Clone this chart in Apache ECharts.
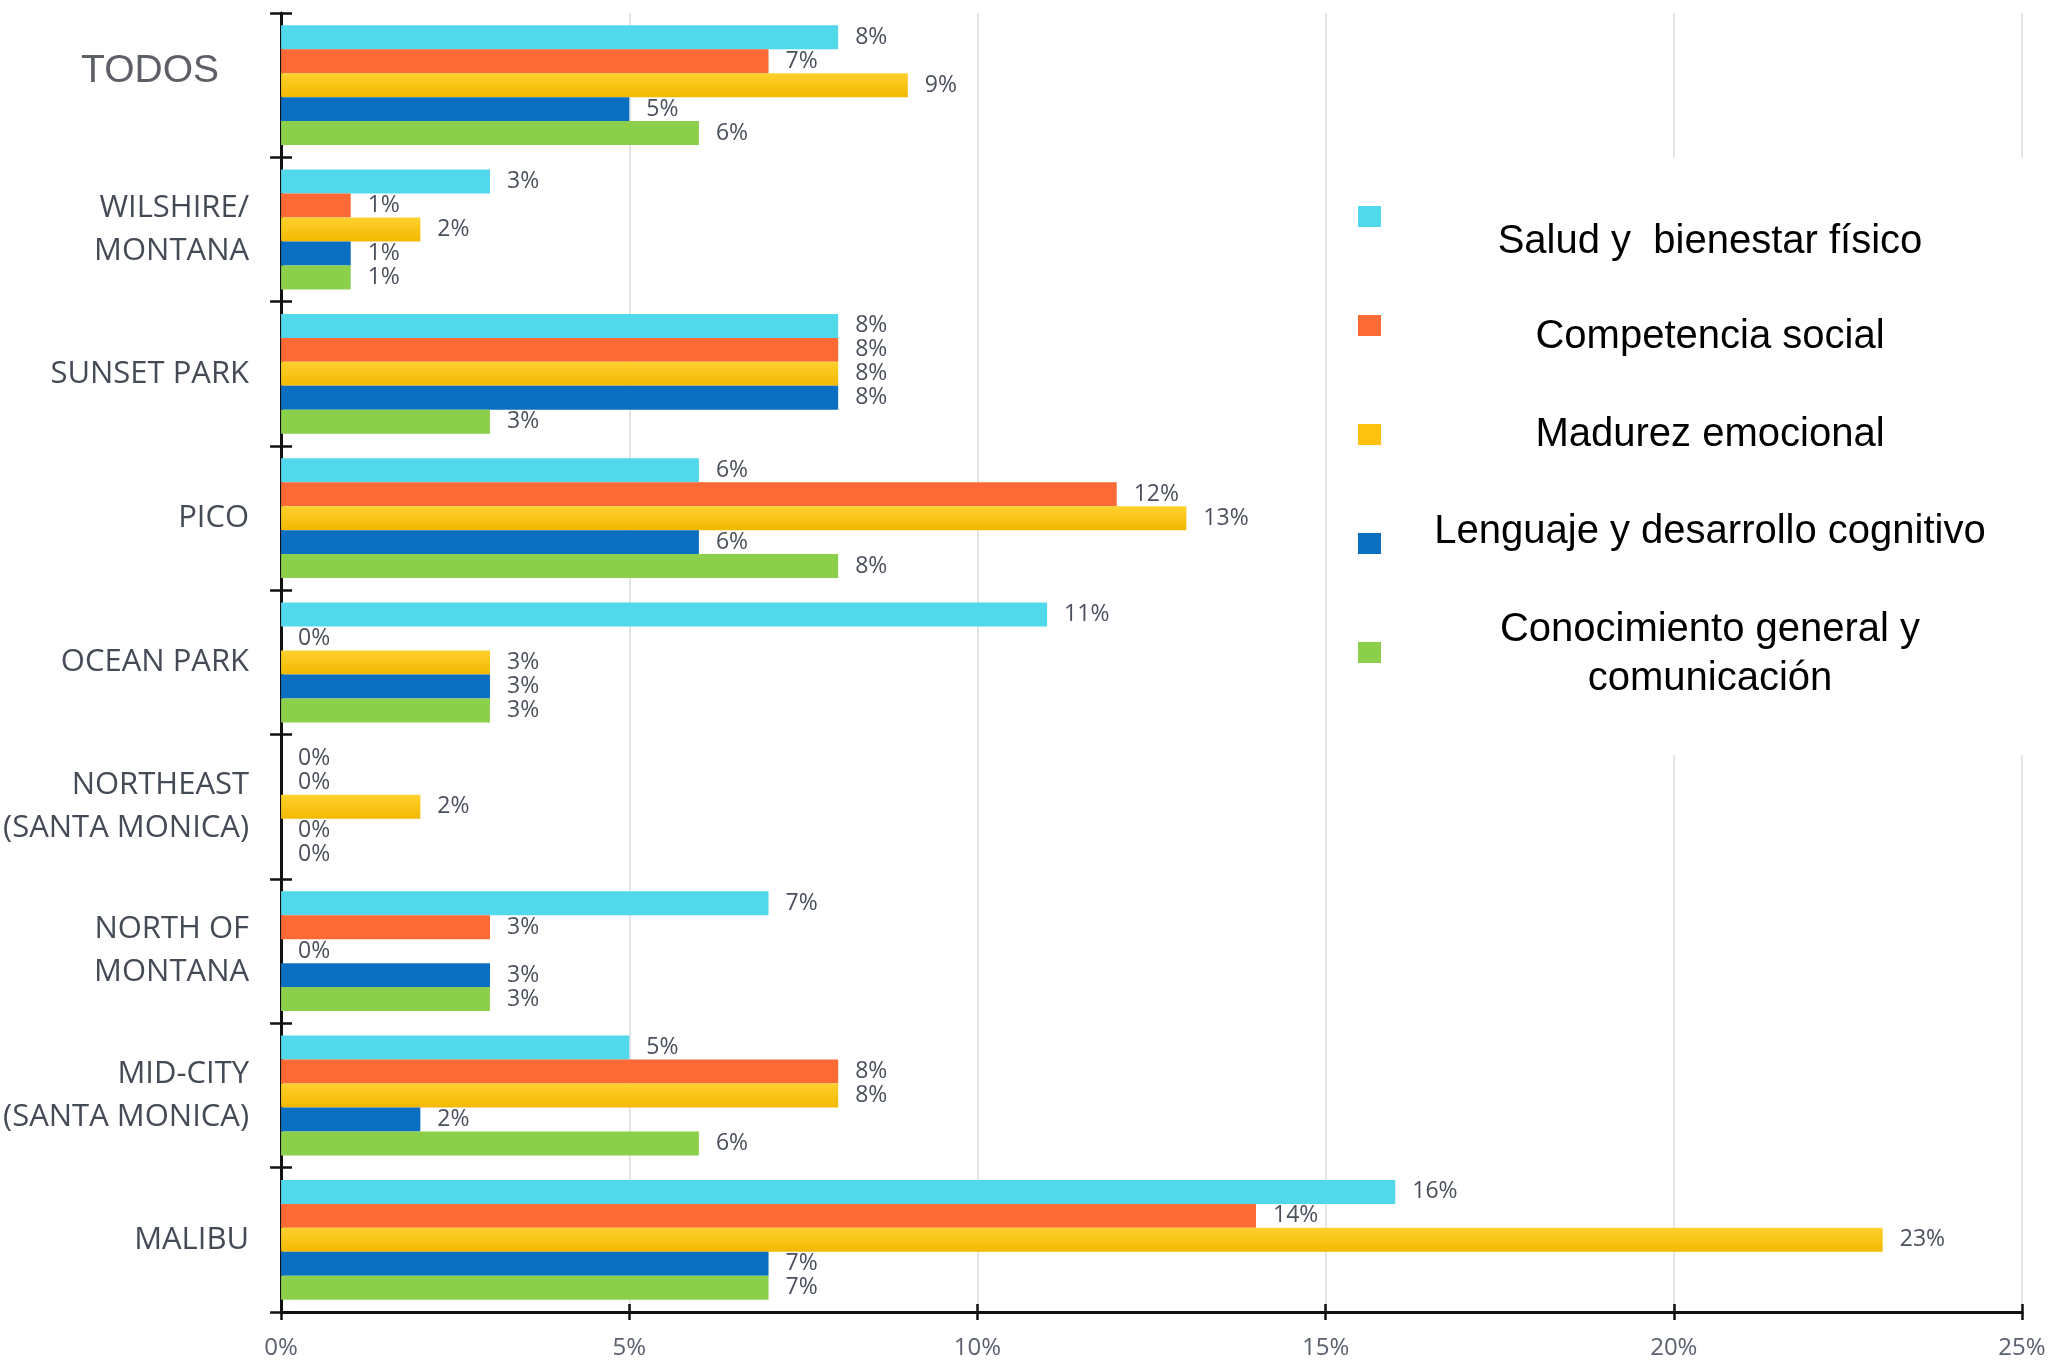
<!DOCTYPE html>
<html lang="es">
<head>
    <meta charset="UTF-8">
    <script src="https://cdn.jsdelivr.net/npm/echarts@6/dist/echarts.min.js"></script>
    <title>Vulnerabilidad por barrio</title>
</head>
<style>
    body{
        width: 100%;
        height: 100%;
        margin: 0;
        padding: 0;
        background: #fff;
    }
</style>
<body>
<div id="chart" style="width: 2049px;height:1363px;"></div>
</body>
<script>
    // barrios, de arriba a abajo
    var barrios = ['TODOS', 'WILSHIRE/\nMONTANA', 'SUNSET PARK', 'PICO', 'OCEAN PARK',
        'NORTHEAST\n(SANTA MONICA)', 'NORTH OF\nMONTANA', 'MID-CITY\n(SANTA MONICA)', 'MALIBU'];

    var dominios = ['Salud y  bienestar físico', 'Competencia social', 'Madurez emocional',
        'Lenguaje y desarrollo cognitivo', 'Conocimiento general y\ncomunicación'];

    // % por dominio
    var salud       = [8, 3, 8, 6, 11, 0, 7, 5, 16];
    var social      = [7, 1, 8, 12, 0, 0, 3, 8, 14];
    var emocional   = [9, 2, 8, 13, 3, 2, 0, 8, 23];
    var lenguaje    = [5, 1, 8, 6, 3, 0, 3, 2, 7];
    var conocimiento = [6, 1, 3, 8, 3, 0, 3, 6, 7];

    var colores = ['#52d8eb', '#fe6a35',
        new echarts.graphic.LinearGradient(0, 0, 0, 1, [
            {offset: 0, color: '#ffd12e'}, {offset: 1, color: '#f3b800'}
        ]),
        '#0b6fc1', '#8ccf4b'];
    var coloresLeyenda = ['#52d8eb', '#fe6a35', '#fcc20f', '#0b6fc1', '#8ccf4b'];

    var valores = [salud, social, emocional, lenguaje, conocimiento];

    var fuente = '"Open Sans", sans-serif';

    var series = [];
    for (var i = 0; i < valores.length; i++) {
        series.push({
            name: dominios[i],
            type: 'bar',
            data: valores[i],
            barGap: '0%',
            barCategoryGap: '17%',
            itemStyle: {color: colores[i]},
            label: {
                show: true,
                position: 'right',
                distance: 17,
                formatter: '{c}%',
                fontFamily: fuente,
                fontSize: 23,
                color: '#4a4f5c'
            },
            animation: false
        });
    }

    var chart = echarts.init(document.getElementById('chart'));
    var option = {
        backgroundColor: '#fff',
        animation: false,
        grid: {left: 281, right: 27, top: 13, bottom: 51},
        legend: {
            orient: 'vertical',
            left: 1353,
            top: 201,
            itemWidth: 23,
            itemHeight: 21,
            itemGap: 88,
            icon: 'rect',
            selectedMode: false,
            data: dominios.map(function (d, k) {
                return {name: d, itemStyle: {color: coloresLeyenda[k]}};
            }),
            formatter: function () { return ''; },
            z: 5
        },
        xAxis: [{
            type: 'value',
            min: 0,
            max: 25,
            interval: 5,
            axisLine: {show: true, lineStyle: {color: '#111', width: 3}},
            axisTick: {show: true, length: 8, lineStyle: {color: '#111', width: 2.5}},
            axisLabel: {
                formatter: '{value}%',
                fontFamily: fuente,
                fontSize: 24,
                color: '#5b6070',
                margin: 24
            },
            splitLine: {show: true, lineStyle: {color: '#dcdcdc', width: 1.5}}
        }, {
            type: 'value',
            position: 'bottom',
            min: 0,
            max: 25,
            interval: 5,
            axisLine: {show: false},
            axisTick: {show: true, inside: true, length: 8, lineStyle: {color: '#111', width: 2.5}},
            axisLabel: {show: false},
            splitLine: {show: false}
        }],
        yAxis: [{
            type: 'category',
            inverse: true,
            data: barrios,
            axisLine: {show: true, lineStyle: {color: '#111', width: 3}},
            axisTick: {show: true, length: 11, lineStyle: {color: '#111', width: 2.5}},
            axisLabel: {
                margin: 32,
                fontFamily: fuente,
                fontSize: 31,
                lineHeight: 43,
                color: '#454a57',
                align: 'right',
                formatter: function (v) {
                    return v === 'TODOS' ? '{t|TODOS}' : v;
                },
                rich: {
                    t: {
                        fontFamily: '"Liberation Sans", Arial, sans-serif',
                        fontSize: 39,
                        color: '#5d5f66',
                        padding: [0, 30, 28, 0]
                    }
                }
            }
        }, {
            type: 'category',
            inverse: true,
            position: 'left',
            data: barrios,
            axisLine: {show: false},
            axisTick: {show: true, inside: true, length: 11, lineStyle: {color: '#111', width: 2.5}},
            axisLabel: {show: false}
        }],
        graphic: [{
            type: 'rect',
            left: 1392,
            top: 158,
            shape: {width: 657, height: 597},
            style: {fill: '#fff'},
            z: 1
        }, {
            type: 'group',
            z: 3,
            children: [
                {text: dominios[0], y: 242},
                {text: dominios[1], y: 337},
                {text: dominios[2], y: 435},
                {text: dominios[3], y: 532},
                {text: dominios[4], y: 654}
            ].map(function (t) {
                return {
                    type: 'text',
                    x: 1710,
                    y: t.y,
                    z: 3,
                    style: {
                        text: t.text,
                        fontFamily: '"Liberation Sans", Arial, sans-serif',
                        fontSize: 40,
                        lineHeight: 49,
                        fill: '#000',
                        align: 'center',
                        verticalAlign: 'middle'
                    }
                };
            })
        }],
        series: series
    };
    chart.setOption(option);
</script>
</html>
